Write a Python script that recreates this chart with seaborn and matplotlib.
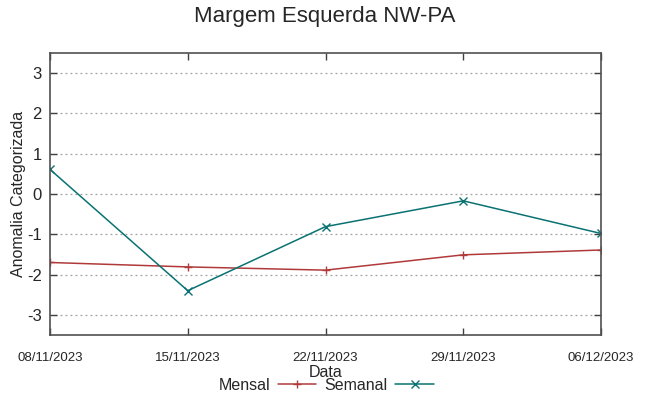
import matplotlib
matplotlib.use("Agg")
import matplotlib.pyplot as plt
import seaborn as sns
import pandas as pd
from matplotlib import font_manager

dates = ["08/11/2023", "15/11/2023", "22/11/2023", "29/11/2023", "06/12/2023"]
mensal = [-1.70, -1.81, -1.89, -1.51, -1.39]
semanal = [0.61, -2.40, -0.81, -0.17, -0.98]
yticks = [-3, -2, -1, 0, 1, 2, 3]

sns.set_theme(style="white")
names = {f.name for f in font_manager.fontManager.ttflist}
fam = "Liberation Sans Narrow" if "Liberation Sans Narrow" in names else "Liberation Sans"
plt.rcParams["font.family"] = [fam, "DejaVu Sans"]

df = pd.DataFrame({
    "pos": list(range(len(dates))) * 2,
    "valor": mensal + semanal,
    "serie": ["Mensal"] * len(dates) + ["Semanal"] * len(dates),
})

fig = plt.figure(figsize=(6.49, 3.96), dpi=100)
ax = fig.add_axes([50 / 649, (396 - 335) / 396, 551 / 649, 282 / 396])

palette = {"Mensal": "#b03a3a", "Semanal": "#0a7272"}
markers = {"Mensal": "+", "Semanal": "x"}
for name in ["Mensal", "Semanal"]:
    sub = df[df["serie"] == name]
    sns.lineplot(data=sub, x="pos", y="valor", ax=ax, color=palette[name],
                 marker=markers[name], markersize=6, markeredgewidth=1.0,
                 markeredgecolor=palette[name], markerfacecolor=palette[name],
                 linewidth=1.1, label=name, legend=False)

ax.set_xlim(0, len(dates) - 1)
ax.set_ylim(-3.5, 3.5)
ax.set_xticks(range(len(dates)))
ax.set_xticklabels(dates, fontsize=9.5)
ax.set_yticks(yticks)
ax.set_yticklabels([str(t) for t in yticks], fontsize=12)
ax.yaxis.grid(True, linestyle=(0, (1.5, 2.5)), color="#a0a0a0", linewidth=0.9)
ax.xaxis.grid(False)
ax.tick_params(axis="both", direction="in", length=5, width=1, color="#404040",
               top=True, right=True, bottom=True, left=True)
ax.tick_params(axis="x", pad=12)
ax.tick_params(axis="y", pad=6)
for s in ax.spines.values():
    s.set_color("#505050")
    s.set_linewidth(1.2)

ax.set_xlabel("Data", fontsize=11.5, labelpad=1)
ax.set_ylabel("Anomalia Categorizada", fontsize=11.5, labelpad=0.5)
fig.suptitle("Margem Esquerda NW-PA", fontsize=16, y=0.985)

handles, labels = ax.get_legend_handles_labels()
fig.legend(handles, labels, loc="center", bbox_to_anchor=(326 / 649, 1 - 385 / 396),
           ncol=2, frameon=False, fontsize=11.5, markerfirst=False,
           handlelength=2.4, columnspacing=0.5, handletextpad=0.5,
           borderaxespad=0, borderpad=0)

fig.savefig("out.png", dpi=100)
